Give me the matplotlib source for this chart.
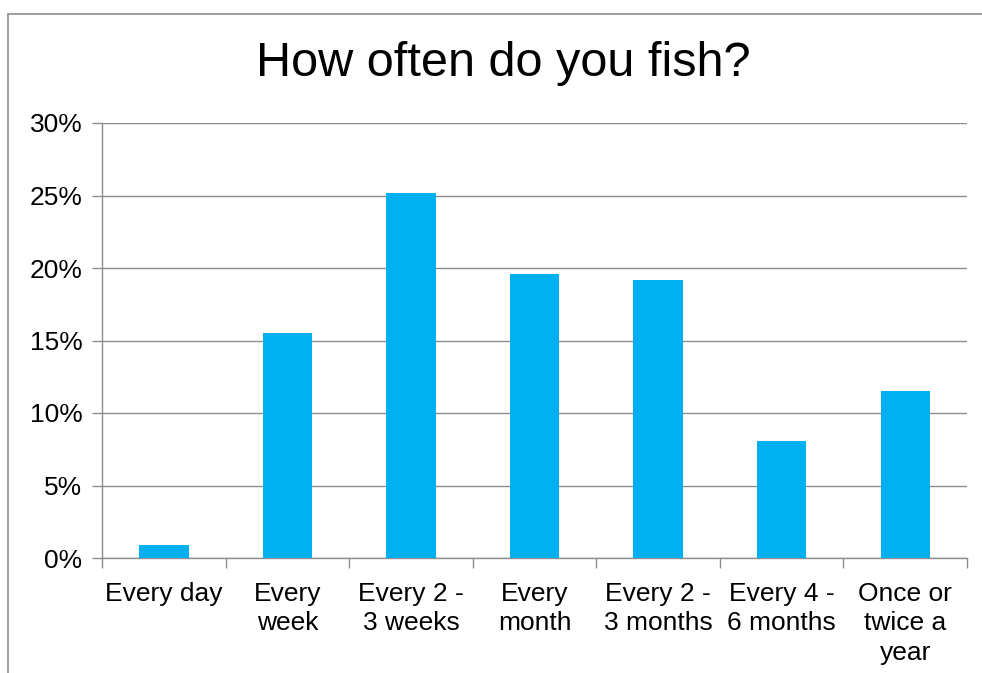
import matplotlib.pyplot as plt
from matplotlib.patches import Rectangle
from matplotlib.ticker import FuncFormatter

categories = ["Every day", "Every\nweek", "Every 2 -\n3 weeks", "Every\nmonth",
              "Every 2 -\n3 months", "Every 4 -\n6 months", "Once or\ntwice a\nyear"]
values = [0.9, 15.5, 25.2, 19.6, 19.2, 8.1, 11.5]
yticks = [0, 5, 10, 15, 20, 25, 30]

plt.rcParams['font.family'] = ['Liberation Sans', 'DejaVu Sans']
W, H = 982, 673
fig = plt.figure(figsize=(W / 100, H / 100), dpi=100)
grey = '#8c8c8c'

# outer chart frame (runs off the right and bottom edges)
fig.patches.append(Rectangle((8 / W, -0.1), 1.2, 1 - 14 / H + 0.1, transform=fig.transFigure,
                             fill=False, edgecolor=grey, linewidth=1.2))

ax = fig.add_axes([102 / W, 1 - 558 / H, (967 - 102) / W, (558 - 123) / H])
x = range(len(categories))
ax.bar(x, values, width=0.4, color='#00B0F0', zorder=3)

ax.set_xlim(-0.5, len(categories) - 0.5)
ax.set_ylim(0, 30)
ax.set_yticks(yticks)
ax.yaxis.set_major_formatter(FuncFormatter(lambda v, p: f"{v:.0f}%"))
ax.grid(axis='y', color=grey, linewidth=1.0, zorder=0)

ax.set_xticks(list(x))
ax.set_xticklabels(categories, fontsize=19, linespacing=1.3, va='top')
ax.tick_params(axis='x', length=0, pad=17)
ax.set_xticks([i - 0.5 for i in range(len(categories) + 1)], minor=True)
ax.tick_params(axis='x', which='minor', length=7, color=grey, width=1.0)
ax.tick_params(axis='y', labelsize=19, length=7, color=grey, width=1.0, pad=7)

for s in ['top', 'right']:
    ax.spines[s].set_visible(False)
for s in ['left', 'bottom']:
    ax.spines[s].set_color(grey)
    ax.spines[s].set_linewidth(1.0)

fig.text(503 / W, 1 - 64 / H, "How often do you fish?", fontsize=35, ha='center', va='center')

fig.savefig('out.png', dpi=100)
